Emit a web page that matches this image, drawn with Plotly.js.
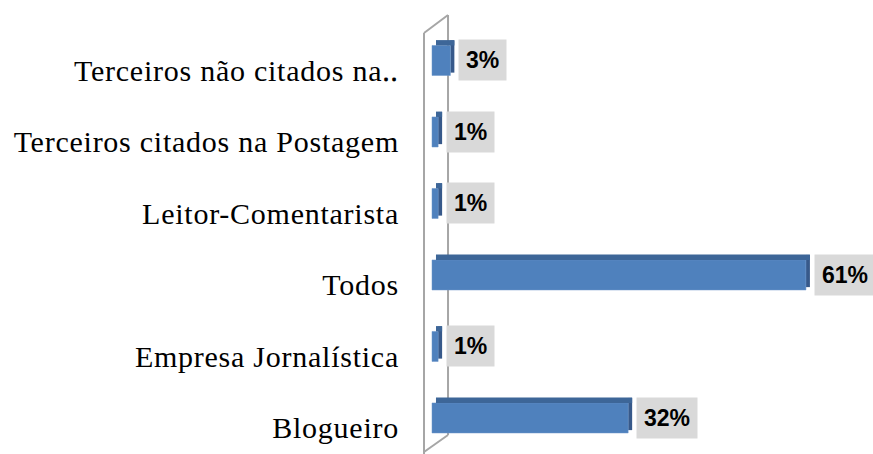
<!DOCTYPE html>
<html>
<head>
<meta charset="utf-8">
<script src="https://cdn.plot.ly/plotly-3.0.1.min.js"></script>
<style>
  html, body { margin: 0; padding: 0; background: #fff; }
  #chart { width: 873px; height: 454px; }
  .ytick text { letter-spacing: 0.75px; }
</style>
</head>
<body>
<div id="chart"></div>
<script>
// Data (bottom to top)
const categories = ['Blogueiro', 'Empresa Jornalística', 'Todos', 'Leitor-Comentarista', 'Terceiros citados na Postagem', 'Terceiros não citados na Postagem'];
const tickLabels = ['Blogueiro', 'Empresa Jornalística', 'Todos', 'Leitor-Comentarista', 'Terceiros citados na Postagem', 'Terceiros não citados na\u2025'];
const values = [32, 1, 61, 1, 1, 3];
const valueLabels = ['32%', '1%', '61%', '1%', '1%', '3%'];

const depth = 0.65; // 3D depth along x (style)

const frontFace = {
  type: 'bar', orientation: 'h',
  y: categories, x: values,
  offset: -0.07, width: 0.42,
  marker: { color: '#4f81bd', line: { color: '#6a95c9', width: 0.5 } },
  hoverinfo: 'skip', showlegend: false
};
const topFace = {
  type: 'bar', orientation: 'h',
  y: categories, x: values, base: values.map(() => depth),
  offset: 0.35, width: 0.075,
  marker: { color: '#3d6698', line: { width: 0 } },
  hoverinfo: 'skip', showlegend: false
};
const sideFace = {
  type: 'bar', orientation: 'h',
  y: categories, x: values.map(() => depth), base: values,
  offset: -0.03, width: 0.45,
  marker: { color: '#37598a', line: { width: 0 } },
  hoverinfo: 'skip', showlegend: false
};

const annotations = categories.map((c, i) => ({
  x: values[i], y: c, xref: 'x', yref: 'y',
  text: valueLabels[i], showarrow: false,
  xanchor: 'left', yanchor: 'middle', xshift: 8, yshift: 10,
  bgcolor: '#d9d9d9', borderpad: 7,
  font: { family: 'Liberation Sans', size: 23, color: '#000', weight: 'bold' }
}));

// wall drawn in paper coordinates (plot area: left 424, width 449, top 15, height 439)
const gray = '#a6a6a6';
const shapes = [
  { type: 'line', xref: 'paper', yref: 'paper', x0: 0, y0: -0.01, x1: 0, y1: 0.959, line: { color: gray, width: 2 }, layer: 'below' },
  { type: 'line', xref: 'paper', yref: 'paper', x0: 0.0535, y0: 0.0433, x1: 0.0535, y1: 1.0, line: { color: gray, width: 2 }, layer: 'below' },
  { type: 'line', xref: 'paper', yref: 'paper', x0: 0, y0: 0.959, x1: 0.0535, y1: 1.0, line: { color: gray, width: 2 }, layer: 'below' },
  { type: 'line', xref: 'paper', yref: 'paper', x0: 0, y0: 0.0046, x1: 0.0535, y1: 0.0433, line: { color: gray, width: 2 }, layer: 'below' }
];

const layout = {
  width: 873, height: 454,
  margin: { l: 424, r: 0, t: 15, b: 0, pad: 0 },
  paper_bgcolor: '#ffffff', plot_bgcolor: 'rgba(0,0,0,0)',
  barmode: 'overlay',
  showlegend: false,
  xaxis: {
    range: [-1.305, 71.94], showgrid: false, zeroline: false, showticklabels: false,
    ticks: '', showline: false, fixedrange: true
  },
  yaxis: {
    type: 'category', categoryorder: 'array', categoryarray: categories,
    tickvals: categories, ticktext: tickLabels,
    range: [-0.364, 5.776], showgrid: false, zeroline: false, showline: false, ticks: '',
    ticklabelstandoff: 24,
    tickfont: { family: 'Liberation Serif', size: 30, color: '#000' },
    fixedrange: true
  },
  annotations: annotations,
  shapes: shapes
};

Plotly.newPlot('chart', [sideFace, frontFace, topFace], layout, { displayModeBar: false, staticPlot: true });
</script>
</body>
</html>
